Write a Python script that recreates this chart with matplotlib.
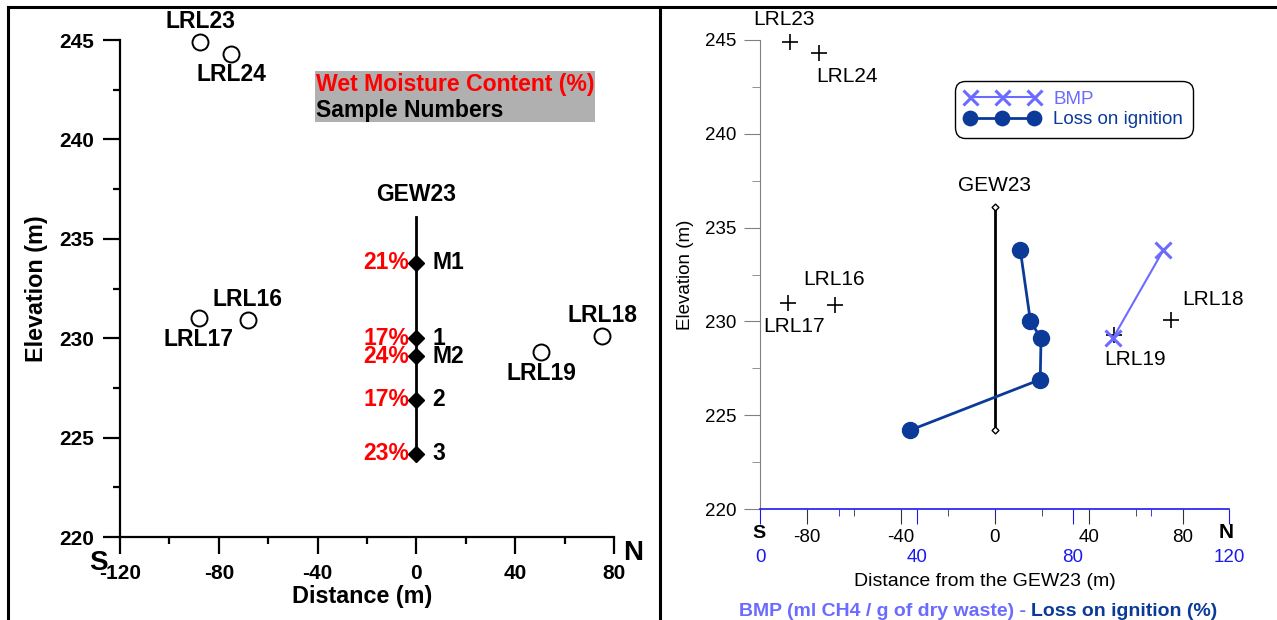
import matplotlib
matplotlib.use("Agg")
import matplotlib.pyplot as plt
from matplotlib.lines import Line2D
from matplotlib.patches import Rectangle

plt.rcParams['font.family'] = ['Liberation Sans', 'DejaVu Sans']
plt.rcParams['axes.unicode_minus'] = False

W, H = 1277, 620

# survey wells around GEW23
well_names = ['LRL23', 'LRL24', 'LRL16', 'LRL17', 'LRL18', 'LRL19']
well_dist = [-87.5, -75.0, -68.3, -88.2, 75.2, 50.6]
well_elev = [244.9, 244.3, 230.9, 231.0, 230.1, 229.3]

# GEW23 well and its samples
gew_dist = 0
gew_top = 236.1
gew_bottom = 224.2
sample_ids = ['M1', '1', 'M2', '2', '3']
sample_elev = [233.8, 230.0, 229.1, 226.9, 224.2]
moisture = [21, 17, 24, 17, 23]

# second panel: BMP and loss on ignition (0-120 scale)
loi = [66.5, 69.1, 71.8, 71.6, 38.3]
bmp_elev = [229.1, 233.8]
bmp = [90.2, 103.1]

LOI_COL = '#0b3a99'
BMP_COL = '#6b6bff'
AX_BLUE = '#1a1aee'

# label offsets in pixels (dx, dy)
off_left = {'LRL23': (0, 20), 'LRL24': (0, -21), 'LRL16': (0, 21),
            'LRL17': (0, -21), 'LRL18': (0, 21), 'LRL19': (0, -21)}
off_right = {'LRL23': (-6, 22), 'LRL24': (28, -23), 'LRL16': (-1, 25),
             'LRL17': (6, -24), 'LRL18': (42, 20), 'LRL19': (22, -25)}

def fx(x):
    return x / W

def fy(y):
    return 1 - y / H

def pt(p):
    return p * 0.72

fig = plt.figure(figsize=(W / 100, H / 100), dpi=100)

# ---------------- left panel ----------------
axL = fig.add_axes([fx(120), fy(537), 494 / W, 497 / H])
axL.set_xlim(-120, 80)
axL.set_ylim(220, 245)
for s in ['top', 'right']:
    axL.spines[s].set_visible(False)
for s in ['left', 'bottom']:
    axL.spines[s].set_linewidth(1.6)

axL.set_xticks([-120, -80, -40, 0, 40, 80])
axL.set_xticks([-100, -60, -20, 20, 60], minor=True)
axL.set_yticks([220, 225, 230, 235, 240, 245])
axL.set_yticks([222.5, 227.5, 232.5, 237.5, 242.5], minor=True)
axL.tick_params(which='major', length=pt(17), width=1.6, labelsize=15)
axL.tick_params(which='minor', length=pt(7), width=1.6)
axL.tick_params(axis='x', pad=pt(10))
axL.tick_params(axis='y', pad=pt(9))
for lbl in axL.get_xticklabels() + axL.get_yticklabels():
    lbl.set_fontweight('bold')

axL.set_xlabel('Distance (m)', fontsize=16.8, fontweight='bold', va='center')
axL.xaxis.set_label_coords(0.49, (537 - 597) / 497)
axL.set_ylabel('Elevation (m)', fontsize=16.8, fontweight='bold', va='center')
axL.yaxis.set_label_coords((37 - 120) / 494, 0.5)

axL.plot([gew_dist, gew_dist], [gew_top, gew_bottom], color='black', lw=2, clip_on=False)
axL.plot([gew_dist] * len(sample_elev), sample_elev, ls='none', marker='D', ms=8,
         color='black', clip_on=False)
axL.plot(well_dist, well_elev, ls='none', marker='o', ms=11.5, mfc='white',
         mec='black', mew=1.4, clip_on=False)

for name, x, y in zip(well_names, well_dist, well_elev):
    dx, dy = off_left[name]
    axL.annotate(name, (x, y), xytext=(pt(dx), pt(dy)), textcoords='offset points',
                 ha='center', va='center', fontsize=16.5, fontweight='bold',
                 annotation_clip=False)
axL.annotate('GEW23', (gew_dist, gew_top), xytext=(0, pt(22)), textcoords='offset points',
             ha='center', va='center', fontsize=16.5, fontweight='bold')
for sid, m, y in zip(sample_ids, moisture, sample_elev):
    axL.annotate(f'{m}%', (gew_dist, y), xytext=(pt(-7), 0), textcoords='offset points',
                 ha='right', va='center', fontsize=16.5, fontweight='bold', color='red')
    axL.annotate(sid, (gew_dist, y), xytext=(pt(16), 0), textcoords='offset points',
                 ha='left', va='center', fontsize=16.5, fontweight='bold')

fig.add_artist(Rectangle((fx(315), fy(122)), 280 / W, 51 / H, transform=fig.transFigure,
                         facecolor='#b0b0b0', edgecolor='none'))
fig.text(fx(316), fy(84), 'Wet Moisture Content (%)', color='red', fontsize=16.6,
         fontweight='bold', va='center', ha='left')
fig.text(fx(316), fy(110), 'Sample Numbers', color='black', fontsize=16.6,
         fontweight='bold', va='center', ha='left')

fig.text(fx(98), fy(563), 'S', fontsize=20, fontweight='bold', ha='center', va='center')
fig.text(fx(633), fy(553), 'N', fontsize=20, fontweight='bold', ha='center', va='center')

# ---------------- right panel ----------------
axR = fig.add_axes([fx(760.4), fy(509), 469 / W, 469 / H])
axR.set_xlim(-100, 100)
axR.set_ylim(220, 245)
for s in ['top', 'right', 'bottom']:
    axR.spines[s].set_visible(False)
axR.spines['left'].set_color('#808080')
axR.set_xticks([-80, -40, 0, 40, 80])
axR.set_xticks([-60, -20, 20, 60], minor=True)
axR.set_yticks([220, 225, 230, 235, 240, 245])
axR.set_yticks([222.5, 227.5, 232.5, 237.5, 242.5], minor=True)
axR.tick_params(axis='x', which='major', length=pt(15), color='#333333', labelsize=13.5, pad=pt(5))
axR.tick_params(axis='x', which='minor', length=pt(7), color='#333333')
axR.tick_params(axis='y', which='major', length=pt(16), color='#808080', labelsize=13.5, pad=pt(8))
axR.tick_params(axis='y', which='minor', length=pt(8), color='#808080')
axR.set_xlabel('Distance from the GEW23 (m)', fontsize=14, va='center')
axR.xaxis.set_label_coords((985 - 760.4) / 469, (509 - 581) / 469)
axR.set_ylabel('Elevation (m)', fontsize=13.5, va='center')
axR.yaxis.set_label_coords((686 - 760.4) / 469, 0.5)

axR.plot([gew_dist, gew_dist], [gew_top, gew_bottom], color='black', lw=2, zorder=2)
axR.plot([gew_dist, gew_dist], [gew_top, gew_bottom], ls='none', marker='D', ms=3.5,
         mfc='white', mec='black', mew=1, zorder=3)
axR.plot(well_dist, well_elev, ls='none', marker='+', ms=12, mew=1.2, color='black',
         clip_on=False)
for name, x, y in zip(well_names, well_dist, well_elev):
    dx, dy = off_right[name]
    axR.annotate(name, (x, y), xytext=(pt(dx), pt(dy)), textcoords='offset points',
                 ha='center', va='center', fontsize=15, annotation_clip=False)
axR.annotate('GEW23', (gew_dist, gew_top), xytext=(0, pt(21)), textcoords='offset points',
             ha='center', va='center', fontsize=15)

ax2 = axR.twiny()
ax2.set_xlim(0, 120)
for s in ['top', 'left', 'right']:
    ax2.spines[s].set_visible(False)
ax2.spines['bottom'].set_visible(True)
ax2.spines['bottom'].set_color(AX_BLUE)
ax2.spines['bottom'].set_linewidth(1.2)
ax2.xaxis.set_ticks_position('bottom')
ax2.xaxis.set_label_position('bottom')
ax2.set_xticks([0, 40, 80, 120])
ax2.set_xticks([20, 60, 100], minor=True)
ax2.tick_params(axis='x', which='major', length=pt(15), color=AX_BLUE, labelcolor=AX_BLUE,
                labelsize=13.5, pad=pt(25))
ax2.tick_params(axis='x', which='minor', length=pt(7), color=AX_BLUE)

ax2.plot(bmp, bmp_elev, color=BMP_COL, lw=1.5, marker='x', ms=12, mew=2.2, label='BMP')
ax2.plot(loi, sample_elev, color=LOI_COL, lw=2, marker='o', ms=11.5, label='Loss on ignition')

leg = ax2.legend(loc='upper left', bbox_to_anchor=(fx(955), fy(81)), bbox_transform=fig.transFigure,
                 numpoints=3, handlelength=4.0, fontsize=13.5, labelcolor='linecolor',
                 fancybox=True, edgecolor='black', framealpha=1, borderaxespad=0,
                 borderpad=0.5, labelspacing=0.2, handletextpad=0.75, markerscale=0.9)
leg.get_frame().set_linewidth(1)
leg.get_frame().set_boxstyle('round', pad=0, rounding_size=0.55)

fig.text(fx(759), fy(534), 'S', fontsize=14, fontweight='bold', ha='center', va='center')
fig.text(fx(1226), fy(533), 'N', fontsize=15, fontweight='bold', ha='center', va='center')

fig.text(fx(1031), fy(612), 'BMP (ml CH4 / g of dry waste) - ', color=BMP_COL, fontsize=14,
         fontweight='bold', ha='right', va='center')
fig.text(fx(1031), fy(612), 'Loss on ignition (%)', color=LOI_COL, fontsize=14,
         fontweight='bold', ha='left', va='center')

# panel frame lines
fig.add_artist(Line2D([fx(8), 1], [fy(7), fy(7)], transform=fig.transFigure, color='black', lw=2.2))
fig.add_artist(Line2D([fx(8), fx(8)], [0, fy(7)], transform=fig.transFigure, color='black', lw=2.2))
fig.add_artist(Line2D([fx(659.5), fx(659.5)], [0, fy(7)], transform=fig.transFigure, color='black', lw=2.2))

fig.savefig('out.png', dpi=100)
